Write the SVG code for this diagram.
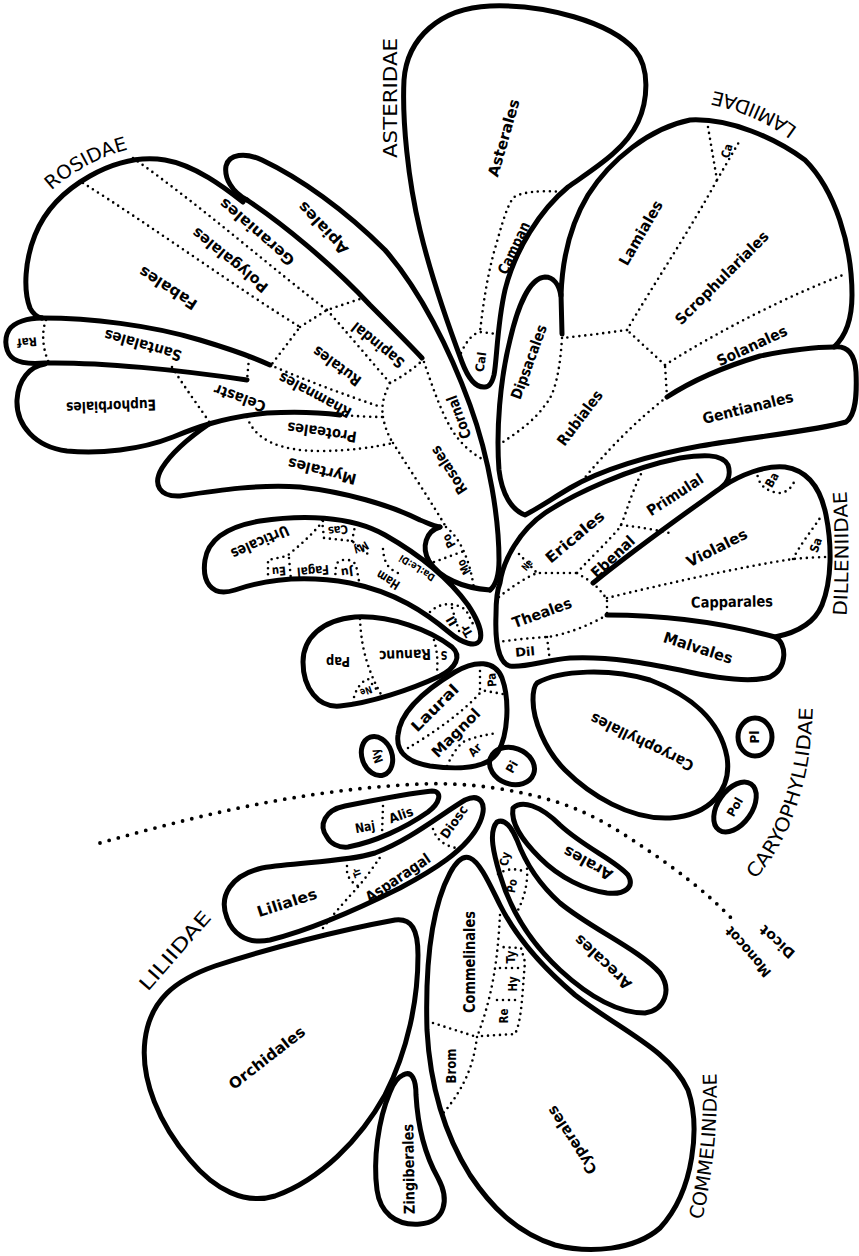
<svg xmlns="http://www.w3.org/2000/svg" width="859" height="1256" viewBox="0 0 859 1256">
<style>
.th{fill:none;stroke:#000;stroke-width:5;stroke-linejoin:round;stroke-linecap:round}
.dt{fill:none;stroke:#000;stroke-width:2.6;stroke-linecap:round;stroke-dasharray:0 6}
.dv{fill:none;stroke:#000;stroke-width:3.8;stroke-linecap:round;stroke-dasharray:0 9.5}
text{fill:#000}
.lb{font-family:"DejaVu Sans Condensed","Liberation Sans Narrow","Roboto","DejaVu Sans",sans-serif;font-weight:bold;font-size:15px;text-anchor:middle;dominant-baseline:central;font-stretch:condensed}
.sm{font-size:12px}
.xs{font-size:10px}
.sc{font-family:"DejaVu Sans","Liberation Sans",sans-serif;font-size:19px;text-anchor:middle}
</style>
<defs>
<path id="pRos" d="M50,192 Q85,160 130,149"/>
<path id="pLam" d="M805,134 C784,116 752,98 704,89"/>
<path id="pDil" d="M846,622 Q851,555 846,485"/>
<path id="pCar" d="M750,885 Q812,820 813,700"/>
<path id="pCom" d="M700,1228 Q720,1150 716,1065"/>
</defs>
<rect width="859" height="1256" fill="#fff"/>

<g id="connectors">
<path id="monocot-dicot-divider" class="dv" d="M100,843 C200,815 300,790 420,784 C470,782 520,790 560,803 C590,813 615,828 640,845 C675,868 710,895 733,920"/>
<text class="lb" style="font-size:14px" transform="translate(748,952) rotate(-131)" textLength="62" lengthAdjust="spacingAndGlyphs">Monocot</text>
<text class="lb" style="font-size:14px" transform="translate(777,942) rotate(-138)" textLength="42" lengthAdjust="spacingAndGlyphs">Dicot</text>
</g>

<g id="asteridae">
<text class="sc" transform="translate(397,98) rotate(-90)" textLength="120" lengthAdjust="spacingAndGlyphs">ASTERIDAE</text>
<path class="th" d="M485,387 C476,388 468,378 462,362 C450,330 432,280 420,230 C408,180 402,120 404,80 C407,38 440,8 490,6 C545,4 610,22 635,50 C650,68 648,100 638,122 C625,150 595,168 568,187 C540,210 515,250 505,290 C497,325 497,360 494,375 C492,383 489,387 485,387 Z"/>
<path class="dt" d="M562,192 C540,190 520,192 513,198 C505,210 500,232 494,252 C487,278 483,305 480,332"/>
<path class="dt" d="M461,353 C466,342 472,334 480,332 L497,334"/>
<g id="asterales"><text class="lb" transform="translate(504,138) rotate(-74)" textLength="80" lengthAdjust="spacingAndGlyphs">Asterales</text></g>
<g id="campanulales"><text class="lb" transform="translate(514,248) rotate(-65)" textLength="56" lengthAdjust="spacingAndGlyphs">Campan</text></g>
<g id="calycerales"><text class="lb sm" transform="translate(481,362) rotate(-82)" textLength="20" lengthAdjust="spacingAndGlyphs">Cal</text></g>
</g>

<g id="lamiidae">
<text class="sc"><textPath href="#pLam" startOffset="50%" textLength="93" lengthAdjust="spacingAndGlyphs">LAMIIDAE</textPath></text>
<path class="th" d="M525,515 C512,510 502,495 499,470 C496,430 500,380 510,340 C518,305 530,278 545,277 C553,277 559,284 561,296 C562,262 570,225 588,195 C610,160 650,128 690,120 C730,118 775,138 805,160 C835,190 852,245 852,295 C852,320 846,336 834,347 C848,345 855,355 856,372 C857,395 856,415 846,422 C820,430 760,436 700,446 C650,455 600,470 570,488 C550,500 535,510 525,515 Z"/>
<path class="th" d="M561,294 L562,334"/>
<path class="th" d="M667,397 C690,382 720,368 760,356 C790,350 815,347 834,347"/>
<path class="dt" d="M667,397 C650,410 620,435 582,481"/>
<path class="dt" d="M667,397 L665,365"/>
<path class="dt" d="M665,365 L627,330"/>
<path class="dt" d="M665,365 C720,330 790,295 843,275"/>
<path class="dt" d="M627,330 C605,333 582,336 562,338"/>
<path class="dt" d="M627,330 C650,290 690,230 717,180"/>
<path class="dt" d="M708,127 L717,180 L739,142"/>
<path class="dt" d="M562,338 C560,370 555,395 545,405 C535,420 518,432 503,442"/>
<g id="lamiales"><text class="lb" transform="translate(641,233) rotate(-60)" textLength="72" lengthAdjust="spacingAndGlyphs">Lamiales</text></g>
<g id="scrophulariales"><text class="lb" transform="translate(722,278) rotate(-45)" textLength="125" lengthAdjust="spacingAndGlyphs">Scrophulariales</text></g>
<g id="solanales"><text class="lb" transform="translate(752,346) rotate(-25)" textLength="76" lengthAdjust="spacingAndGlyphs">Solanales</text></g>
<g id="gentianales"><text class="lb" transform="translate(748,408) rotate(-14)" textLength="93" lengthAdjust="spacingAndGlyphs">Gentianales</text></g>
<g id="rubiales"><text class="lb" transform="translate(580,418) rotate(-53)" textLength="65" lengthAdjust="spacingAndGlyphs">Rubiales</text></g>
<g id="dipsacales"><text class="lb" transform="translate(529,362) rotate(-70)" textLength="78" lengthAdjust="spacingAndGlyphs">Dipsacales</text></g>
<g id="callitrichales"><text class="lb sm" transform="translate(727,151) rotate(-75)" textLength="14" lengthAdjust="spacingAndGlyphs">Ca</text></g>
</g>

<g id="rosidae">
<text class="sc"><textPath href="#pRos" startOffset="50%" textLength="88" lengthAdjust="spacingAndGlyphs">ROSIDAE</textPath></text>
<path class="th" d="M243,202 C225,188 195,165 165,160 C140,156 115,162 90,176 C65,190 45,210 35,235 C25,260 23,290 30,308 C33,314 37,317 42,318"/>
<path class="th" d="M42,318 C28,318 14,322 9,330 C3,340 6,354 14,359 C22,364 34,364 45,363 C100,362 180,370 247,380"/>
<path class="th" d="M42,318 C90,318 150,325 200,340 C230,349 255,358 270,365"/>
<path class="th" d="M45,364 C30,366 18,380 17,400 C16,425 35,447 67,451 C100,454 140,450 173,437 C195,428 220,418 267,413 C300,411 325,413 340,415"/>
<path class="th" d="M209,424 C190,437 172,452 162,468 C152,485 160,497 180,496 C220,490 260,484 300,487 C345,492 390,505 420,520 C428,523 433,526 440,527"/>
<path class="th" d="M440,527 C426,531 421,547 429,561 C440,578 462,588 490,590"/>
<path class="th" d="M247,200 C232,192 224,178 226,166 C229,154 245,152 262,160 C300,178 345,210 385,250 C420,290 450,350 470,405 C490,460 499,520 499,560 C499,575 496,585 490,590"/>
<path class="th" d="M247,200 C280,222 330,262 370,305 C390,325 410,345 422,358"/>
<path class="dt" d="M83,183 C150,225 240,290 300,327 L272,364"/>
<path class="dt" d="M133,158 C200,205 280,275 327,310"/>
<path class="dt" d="M300,327 L327,310 L363,298"/>
<path class="dt" d="M327,310 C345,330 370,360 390,383"/>
<path class="dt" d="M270,365 C305,380 345,395 381,407"/>
<path class="dt" d="M390,383 C400,378 412,370 423,360"/>
<path class="dt" d="M390,383 C384,395 381,405 383,417"/>
<path class="dt" d="M249,358 L247,380"/>
<path class="dt" d="M46,320 C41,333 43,350 49,363"/>
<path class="dt" d="M172,367 C185,388 200,408 210,423"/>
<path class="dt" d="M340,415 C355,416 370,417 383,417"/>
<path class="dt" d="M247,417 C255,440 280,451 320,451 C350,451 375,447 393,443"/>
<path class="dt" d="M383,417 C385,428 389,437 393,443"/>
<path class="dt" d="M393,443 C410,470 430,500 446,527"/>
<path class="dt" d="M424,362 C432,385 440,410 452,430 C462,446 475,456 488,462"/>
<path class="dt" d="M446,527 C460,538 470,560 474,589"/>
<path class="dt" d="M434,562 L467,550"/>
<g id="fabales"><text class="lb" transform="translate(168,288) rotate(-147)" textLength="66" lengthAdjust="spacingAndGlyphs">Fabales</text></g>
<g id="polygalales"><text class="lb" transform="translate(230,260) rotate(-141)" textLength="93" lengthAdjust="spacingAndGlyphs">Polygalales</text></g>
<g id="geraniales"><text class="lb" transform="translate(257,232) rotate(-139)" textLength="94" lengthAdjust="spacingAndGlyphs">Geraniales</text></g>
<g id="apiales"><text class="lb" transform="translate(323,228) rotate(-133)" textLength="66" lengthAdjust="spacingAndGlyphs">Apiales</text></g>
<g id="sapindales"><text class="lb" transform="translate(378,345) rotate(-141)" textLength="63" lengthAdjust="spacingAndGlyphs">Sapindal</text></g>
<g id="rutales"><text class="lb" transform="translate(337,366) rotate(-144)" textLength="56" lengthAdjust="spacingAndGlyphs">Rutales</text></g>
<g id="rhamnales"><text class="lb" transform="translate(315,395) rotate(-152)" textLength="80" lengthAdjust="spacingAndGlyphs">Rhamnales</text></g>
<g id="proteales"><text class="lb" transform="translate(322,432) rotate(-172)" textLength="70" lengthAdjust="spacingAndGlyphs">Proteales</text></g>
<g id="myrtales"><text class="lb" transform="translate(322,471) rotate(-166)" textLength="70" lengthAdjust="spacingAndGlyphs">Myrtales</text></g>
<g id="celastrales"><text class="lb" transform="translate(240,398) rotate(-160)" textLength="54" lengthAdjust="spacingAndGlyphs">Celastr</text></g>
<g id="euphorbiales"><text class="lb" transform="translate(111,406) rotate(178)" textLength="90" lengthAdjust="spacingAndGlyphs">Euphorbiales</text></g>
<g id="santalales"><text class="lb" transform="translate(143,345) rotate(-164)" textLength="80" lengthAdjust="spacingAndGlyphs">Santalales</text></g>
<g id="rafflesiales"><text class="lb sm" transform="translate(27,342) rotate(175)" textLength="20" lengthAdjust="spacingAndGlyphs">Raf</text></g>
<g id="cornales"><text class="lb" transform="translate(459,417) rotate(-110)" textLength="45" lengthAdjust="spacingAndGlyphs">Cornal</text></g>
<g id="rosales"><text class="lb" transform="translate(449,470) rotate(-123)" textLength="54" lengthAdjust="spacingAndGlyphs">Rosales</text></g>
<g id="podostemales"><text class="lb sm" transform="translate(449,541) rotate(-120)" textLength="14" lengthAdjust="spacingAndGlyphs">Po</text></g>
<g id="montiniales"><text class="lb sm" transform="translate(464,567) rotate(-120)" textLength="15" lengthAdjust="spacingAndGlyphs">Mo</text></g>
</g>

<g id="hamamelidae">
<path class="th" d="M480,640 C476,648 462,643 450,633 C425,612 395,592 350,583 C310,576 270,578 235,590 C210,598 202,580 205,560 C208,540 225,527 260,521 C300,515 350,515 385,535 C420,555 450,580 468,605 C476,617 483,632 480,640 Z"/>
<path class="dt" d="M323,521 C312,535 300,545 287,556 L268,560 L268,580"/>
<path class="dt" d="M289,558 L291,580"/>
<path class="dt" d="M335,580 L336,565 C339,558 352,558 356,565 L359,581"/>
<path class="dt" d="M322,520 L324,538 L352,541 L369,555"/>
<path class="dt" d="M352,541 L356,521"/>
<path class="dt" d="M383,549 C384,560 386,568 398,573"/>
<path class="dt" d="M430,612 C440,602 455,602 466,610 L474,626"/>
<path class="dt" d="M452,608 L460,634"/>
<g id="urticales"><text class="lb" transform="translate(260,542) rotate(156)" textLength="62" lengthAdjust="spacingAndGlyphs">Urticales</text></g>
<g id="fagales"><text class="lb" style="font-size:13px" transform="translate(313,571) rotate(175)" textLength="32" lengthAdjust="spacingAndGlyphs">Fagal</text></g>
<g id="eucommiales"><text class="lb sm" transform="translate(279,571) rotate(175)" textLength="14" lengthAdjust="spacingAndGlyphs">Eu</text></g>
<g id="juglandales"><text class="lb sm" transform="translate(347,572) rotate(172)" textLength="12" lengthAdjust="spacingAndGlyphs">Ju</text></g>
<g id="casuarinales"><text class="lb sm" transform="translate(338,530) rotate(172)" textLength="20" lengthAdjust="spacingAndGlyphs">Cas</text></g>
<g id="myricales"><text class="lb sm" transform="translate(361,548) rotate(150)" textLength="15" lengthAdjust="spacingAndGlyphs">My</text></g>
<g id="hamamelidales"><text class="lb" style="font-size:13px" transform="translate(388,580) rotate(-148)" textLength="25" lengthAdjust="spacingAndGlyphs">Ham</text></g>
<g id="daphniphyllales"><text class="lb xs" transform="translate(417,568) rotate(-148)" textLength="40" lengthAdjust="spacingAndGlyphs">Da:Le:Di</text></g>
<g id="illiciales"><text class="lb sm" transform="translate(452,621) rotate(-120)" textLength="9" lengthAdjust="spacingAndGlyphs">Il</text></g>
<g id="trochodendrales"><text class="lb sm" transform="translate(467,631) rotate(-120)" textLength="12" lengthAdjust="spacingAndGlyphs">Tr</text></g>
</g>

<g id="magnoliidae">
<path class="th" d="M303,662 C303,638 322,620 355,617 C390,615 430,630 452,647 C462,656 456,668 440,676 C410,690 370,703 340,706 C318,708 303,688 303,662 Z"/>
<path class="dt" d="M360,619 C361,640 364,665 383,698"/>
<path class="dt" d="M353,703 C354,692 360,682 368,679 L377,690"/>
<path class="dt" d="M434,640 C437,650 438,660 437,672"/>
<g id="papaverales"><text class="lb" style="font-size:14px" transform="translate(338,662) rotate(180)" textLength="24" lengthAdjust="spacingAndGlyphs">Pap</text></g>
<g id="ranunculales"><text class="lb" transform="translate(405,655) rotate(178)" textLength="52" lengthAdjust="spacingAndGlyphs">Ranunc</text></g>
<g id="sarraceniales"><text class="lb sm" transform="translate(444,655) rotate(180)" textLength="7" lengthAdjust="spacingAndGlyphs">S</text></g>
<g id="nelumbonales"><text class="lb xs" transform="translate(366,691) rotate(160)" textLength="12" lengthAdjust="spacingAndGlyphs">Ne</text></g>
<path class="th" d="M398,735 C400,712 425,690 455,672 C475,660 495,660 502,678 C510,700 508,735 498,752 C488,768 460,770 430,766 C405,762 396,750 398,735 Z"/>
<path class="dt" d="M408,748 C430,735 460,715 480,693"/>
<path class="dt" d="M480,665 L480,690 L503,694"/>
<path class="dt" d="M447,766 C452,755 458,745 465,741 C475,737 485,735 497,733"/>
<g id="laurales"><text class="lb" transform="translate(435,708) rotate(-45)" textLength="60" lengthAdjust="spacingAndGlyphs">Laural</text></g>
<g id="magnoliales"><text class="lb" transform="translate(456,733) rotate(-45)" textLength="62" lengthAdjust="spacingAndGlyphs">Magnol</text></g>
<g id="paeoniales"><text class="lb sm" transform="translate(492,680) rotate(-95)" textLength="14" lengthAdjust="spacingAndGlyphs">Pa</text></g>
<g id="aristolochiales"><text class="lb sm" transform="translate(475,750) rotate(-45)" textLength="13" lengthAdjust="spacingAndGlyphs">Ar</text></g>
<g id="nymphaeales">
<ellipse class="th" cx="377" cy="756" rx="15" ry="20" transform="rotate(-20 377 756)"/>
<text class="lb sm" transform="translate(377,756) rotate(-110)" textLength="14" lengthAdjust="spacingAndGlyphs">Ny</text>
</g>
<g id="piperales">
<ellipse class="th" cx="512" cy="766" rx="23" ry="18" transform="rotate(20 512 766)"/>
<text class="lb sm" transform="translate(512,767) rotate(-60)" textLength="12" lengthAdjust="spacingAndGlyphs">Pi</text>
</g>
</g>

<g id="dilleniidae">
<text class="sc"><textPath href="#pDil" startOffset="50%" textLength="125" lengthAdjust="spacingAndGlyphs">DILLENIIDAE</textPath></text>
<path class="th" d="M500,583 C503,560 520,530 545,513 C575,493 630,468 680,458 C700,455 722,453 728,465 C731,474 728,482 722,487 C740,475 765,465 785,467 C805,470 820,485 826,515 C832,545 832,580 822,605 C815,622 800,632 775,637 C787,643 788,668 770,677 C750,683 715,678 680,670 C650,664 610,656 570,658 C545,660 525,668 510,666 C498,663 495,640 496,615 C496,600 497,590 500,583 Z"/>
<path class="th" d="M722,487 C690,510 640,545 593,583"/>
<path class="th" d="M607,615 C660,615 720,622 775,637"/>
<path class="dt" d="M499,597 C510,588 525,578 537,573 L577,573"/>
<path class="dt" d="M519,554 L537,573"/>
<path class="dt" d="M577,573 C585,563 610,540 620,527 C625,518 630,495 643,470"/>
<path class="dt" d="M621,525 C640,527 655,530 670,533"/>
<path class="dt" d="M577,573 L593,583 C600,590 605,596 607,600 L607,615"/>
<path class="dt" d="M607,598 C660,585 740,567 793,559 C805,558 818,557 829,557"/>
<path class="dt" d="M793,559 C800,545 812,530 820,518"/>
<path class="dt" d="M757,470 C757,485 767,492 780,493 C788,492 792,487 795,480"/>
<path class="dt" d="M607,615 C590,625 565,635 547,637 C530,638 512,640 497,642"/>
<path class="dt" d="M547,637 L550,662"/>
<g id="ericales"><text class="lb" transform="translate(575,537) rotate(-40)" textLength="72" lengthAdjust="spacingAndGlyphs">Ericales</text></g>
<g id="primulales"><text class="lb" transform="translate(675,495) rotate(-33)" textLength="64" lengthAdjust="spacingAndGlyphs">Primulal</text></g>
<g id="ebenales"><text class="lb" transform="translate(613,557) rotate(-43)" textLength="54" lengthAdjust="spacingAndGlyphs">Ebenal</text></g>
<g id="violales"><text class="lb" transform="translate(717,548) rotate(-27)" textLength="66" lengthAdjust="spacingAndGlyphs">Violales</text></g>
<g id="capparales"><text class="lb" transform="translate(732,602) rotate(-1)" textLength="82" lengthAdjust="spacingAndGlyphs">Capparales</text></g>
<g id="malvales"><text class="lb" transform="translate(698,648) rotate(18)" textLength="72" lengthAdjust="spacingAndGlyphs">Malvales</text></g>
<g id="theales"><text class="lb" transform="translate(542,613) rotate(-20)" textLength="62" lengthAdjust="spacingAndGlyphs">Theales</text></g>
<g id="dilleniales"><text class="lb sm" transform="translate(525,652) rotate(-5)" textLength="20" lengthAdjust="spacingAndGlyphs">Dil</text></g>
<g id="nepenthales"><text class="lb xs" transform="translate(527,565) rotate(-50)" textLength="11" lengthAdjust="spacingAndGlyphs">Ne</text></g>
<g id="salicales"><text class="lb sm" transform="translate(816,545) rotate(-70)" textLength="15" lengthAdjust="spacingAndGlyphs">Sa</text></g>
<g id="batales"><text class="lb sm" transform="translate(772,480) rotate(-60)" textLength="15" lengthAdjust="spacingAndGlyphs">Ba</text></g>
</g>

<g id="caryophyllidae">
<text class="sc"><textPath href="#pCar" startOffset="50%" textLength="185" lengthAdjust="spacingAndGlyphs">CARYOPHYLLIDAE</textPath></text>
<path class="th" d="M537,683 C560,670 610,668 650,680 C690,695 720,720 727,757 C732,790 710,815 670,818 C630,820 590,795 565,770 C545,750 533,720 533,700 C533,692 534,686 537,683 Z"/>
<g id="caryophyllales"><text class="lb" transform="translate(642,742) rotate(-154)" textLength="113" lengthAdjust="spacingAndGlyphs">Caryophyllales</text></g>
<g id="plumbaginales">
<ellipse class="th" cx="755" cy="737" rx="17" ry="19"/>
<text class="lb sm" transform="translate(755,737) rotate(-90)" textLength="13" lengthAdjust="spacingAndGlyphs">Pl</text>
</g>
<g id="polygonales">
<ellipse class="th" cx="735" cy="807" rx="17" ry="28" transform="rotate(35 735 807)"/>
<text class="lb sm" transform="translate(735,807) rotate(-60)" textLength="20" lengthAdjust="spacingAndGlyphs">Pol</text>
</g>
</g>

<g id="liliidae">
<text class="sc" transform="translate(180,955) rotate(-49)" textLength="98" lengthAdjust="spacingAndGlyphs">LILIIDAE</text>
<g id="najadales-alismatales">
<path class="th" d="M327,837 C318,825 325,810 345,806 C375,800 410,793 432,791 C443,791 440,803 428,812 C405,828 375,842 348,847 C338,848 330,843 327,837 Z"/>
<path class="dt" d="M383,806 L382,834"/>
<text class="lb" style="font-size:13px" transform="translate(365,827) rotate(-10)" textLength="20" lengthAdjust="spacingAndGlyphs">Naj</text>
<text class="lb" style="font-size:13px" transform="translate(401,815) rotate(-20)" textLength="25" lengthAdjust="spacingAndGlyphs">Alis</text>
</g>
<g id="liliales-asparagales">
<path class="th" d="M227,918 C218,895 232,875 262,868 C300,862 345,862 375,853 C410,840 440,815 465,800 C480,793 488,803 480,822 C468,850 430,872 400,888 C360,908 310,930 270,940 C245,945 232,932 227,918 Z"/>
<path class="dt" d="M323,928 C335,912 348,898 357,888 C366,878 374,866 381,856"/>
<path class="dt" d="M347,866 C346,874 349,882 360,887"/>
<path class="dt" d="M433,829 C436,838 442,845 456,848"/>
<text class="lb" transform="translate(287,903) rotate(-18)" textLength="62" lengthAdjust="spacingAndGlyphs">Liliales</text>
<text class="lb" transform="translate(398,878) rotate(-34)" textLength="75" lengthAdjust="spacingAndGlyphs">Asparagal</text>
<text class="lb" style="font-size:13px" transform="translate(454,822) rotate(-55)" textLength="37" lengthAdjust="spacingAndGlyphs">Diosc</text>
<text class="lb xs" transform="translate(357,873) rotate(-110)" textLength="9" lengthAdjust="spacingAndGlyphs">Tr</text>
</g>
<g id="orchidales">
<path class="th" d="M395,920 C412,918 418,930 418,955 C418,1000 408,1050 385,1095 C360,1140 320,1180 275,1196 C245,1205 215,1190 190,1160 C160,1125 140,1080 145,1040 C150,1000 175,980 215,966 C270,948 340,930 395,920 Z"/>
<text class="lb" transform="translate(267,1058) rotate(-38)" textLength="92" lengthAdjust="spacingAndGlyphs">Orchidales</text>
</g>
</g>

<g id="commelinidae">
<text class="sc"><textPath href="#pCom" startOffset="50%" textLength="148" lengthAdjust="spacingAndGlyphs">COMMELINIDAE</textPath></text>
<g id="zingiberales">
<path class="th" d="M403,1075 C412,1070 416,1080 416,1095 C418,1130 425,1155 438,1178 C450,1200 445,1222 420,1224 C395,1226 380,1212 377,1190 C373,1160 378,1120 390,1092 C394,1082 398,1077 403,1075 Z"/>
<text class="lb" transform="translate(409,1169) rotate(-91)" textLength="90" lengthAdjust="spacingAndGlyphs">Zingiberales</text>
</g>
<g id="commelinales-cyperales">
<path class="th" d="M470,858 C480,862 490,885 500,905 C515,935 540,965 575,995 C620,1030 670,1050 688,1090 C700,1125 695,1190 660,1228 C635,1250 590,1254 555,1245 C515,1232 490,1205 470,1175 C445,1135 430,1085 427,1030 C425,960 433,905 450,873 C457,860 463,855 470,858 Z"/>
<path class="dt" d="M433,1023 L477,1037"/>
<path class="dt" d="M477,1037 C474,1060 468,1085 440,1117"/>
<path class="dt" d="M500,915 C498,950 495,990 477,1037"/>
<path class="dt" d="M482,1036 L515,1034 C522,1020 522,995 525,962 L521,948 L500,947"/>
<path class="dt" d="M497,1000 L521,1000"/>
<path class="dt" d="M500,968 L523,968"/>
<text class="lb" transform="translate(470,962) rotate(-90)" textLength="102" lengthAdjust="spacingAndGlyphs">Commelinales</text>
<text class="lb" style="font-size:14px" transform="translate(451,1066) rotate(-90)" textLength="35" lengthAdjust="spacingAndGlyphs">Brom</text>
<text class="lb sm" transform="translate(504,1016) rotate(-90)" textLength="15" lengthAdjust="spacingAndGlyphs">Re</text>
<text class="lb sm" transform="translate(513,984) rotate(-90)" textLength="15" lengthAdjust="spacingAndGlyphs">Hy</text>
<text class="lb sm" transform="translate(511,957) rotate(-90)" textLength="13" lengthAdjust="spacingAndGlyphs">Ty</text>
<text class="lb" transform="translate(572,1140) rotate(-123)" textLength="78" lengthAdjust="spacingAndGlyphs">Cyperales</text>
</g>
<g id="arecales">
<path class="th" d="M497,822 C505,818 512,828 517,840 C525,862 540,885 560,903 C590,928 640,950 660,973 C672,990 665,1010 645,1013 C615,1013 585,993 560,970 C535,947 512,915 500,875 C494,855 488,832 497,822 Z"/>
<path class="dt" d="M525,857 C530,875 526,895 517,912"/>
<path class="dt" d="M498,874 C506,869 514,868 523,871"/>
<text class="lb sm" transform="translate(505,859) rotate(-80)" textLength="14" lengthAdjust="spacingAndGlyphs">Cy</text>
<text class="lb sm" transform="translate(512,886) rotate(-80)" textLength="14" lengthAdjust="spacingAndGlyphs">Po</text>
<text class="lb" transform="translate(603,962) rotate(-137)" textLength="72" lengthAdjust="spacingAndGlyphs">Arecales</text>
</g>
<g id="arales">
<path class="th" d="M513,808 C522,800 540,805 560,825 C585,848 615,860 628,875 C635,887 625,895 607,893 C585,890 560,878 540,858 C525,843 510,825 513,808 Z"/>
<text class="lb" transform="translate(588,863) rotate(-151)" textLength="54" lengthAdjust="spacingAndGlyphs">Arales</text>
</g>
</g>
</svg>
